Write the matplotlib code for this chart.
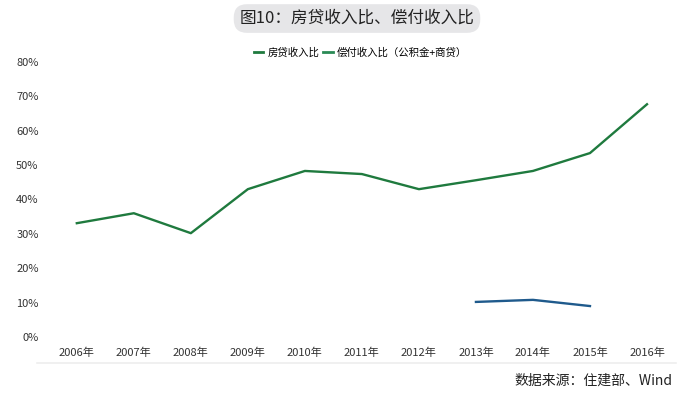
import numpy as np
import matplotlib
matplotlib.use('Agg')
import matplotlib.pyplot as plt
from matplotlib.lines import Line2D

plt.rcParams['font.family'] = ['Noto Sans CJK SC', 'DejaVu Sans']

years = ['2006年', '2007年', '2008年', '2009年', '2010年', '2011年',
         '2012年', '2013年', '2014年', '2015年', '2016年']
house_ratio = [33.1, 36.0, 30.2, 43.0, 48.3, 47.4, 43.0, 45.6, 48.3, 53.5, 67.7]
pay_years = ['2013年', '2014年', '2015年']
pay_ratio = [10.2, 10.8, 9.0]
yticks = [0, 10, 20, 30, 40, 50, 60, 70, 80]

green = '#1f7a3e'
blue = '#1f5a8c'


def main():
    fig = plt.figure(figsize=(7, 3.94), dpi=100)
    ax = fig.add_axes([0.069, 0.1447, 0.896, 0.698])

    x = np.arange(len(years))
    ax.plot(x, np.array(house_ratio) / 100, color=green, linewidth=1.7)
    px = [years.index(y) for y in pay_years]
    ax.plot(px, np.array(pay_ratio) / 100, color=blue, linewidth=1.7)

    ax.set_xlim(-0.5, len(years) - 0.5)
    ax.set_ylim(0, 0.8)
    ax.set_yticks([v / 100 for v in yticks])
    ax.set_yticklabels([f'{v}%' for v in yticks], fontsize=8, color='#333333')
    ax.set_xticks(x)
    ax.set_xticklabels(years, fontsize=8, color='#333333')
    ax.tick_params(length=0)
    ax.tick_params(axis='y', pad=7)
    ax.tick_params(axis='x', pad=8)
    for s in ax.spines.values():
        s.set_visible(False)

    # legend
    handles = [Line2D([], [], color=green, linewidth=2),
               Line2D([], [], color='#2a8a55', linewidth=2)]
    fig.legend(handles, ['房贷收入比', '偿付收入比（公积金+商贷）'],
               loc='center', bbox_to_anchor=(0.515, 0.866), ncol=2,
               frameon=False, fontsize=7.5, handlelength=0.9,
               handletextpad=0.4, columnspacing=0.4)

    # title in rounded box
    fig.text(0.51, 0.953, '图10：房贷收入比、偿付收入比', ha='center', va='center',
             fontsize=12, color='#222222',
             bbox=dict(boxstyle='round,pad=0.35,rounding_size=0.8',
                       fc='#e6e6e8', ec='none'))

    # separator + source
    fig.add_artist(Line2D([0.053, 0.965], [0.079, 0.079], color='#eeeeee',
                          linewidth=1.2, transform=fig.transFigure))
    fig.text(0.96, 0.035, '数据来源：住建部、Wind', ha='right', va='center',
             fontsize=10, color='#222222')

    plt.savefig('out.png', dpi=100)


if __name__ == '__main__':
    main()
